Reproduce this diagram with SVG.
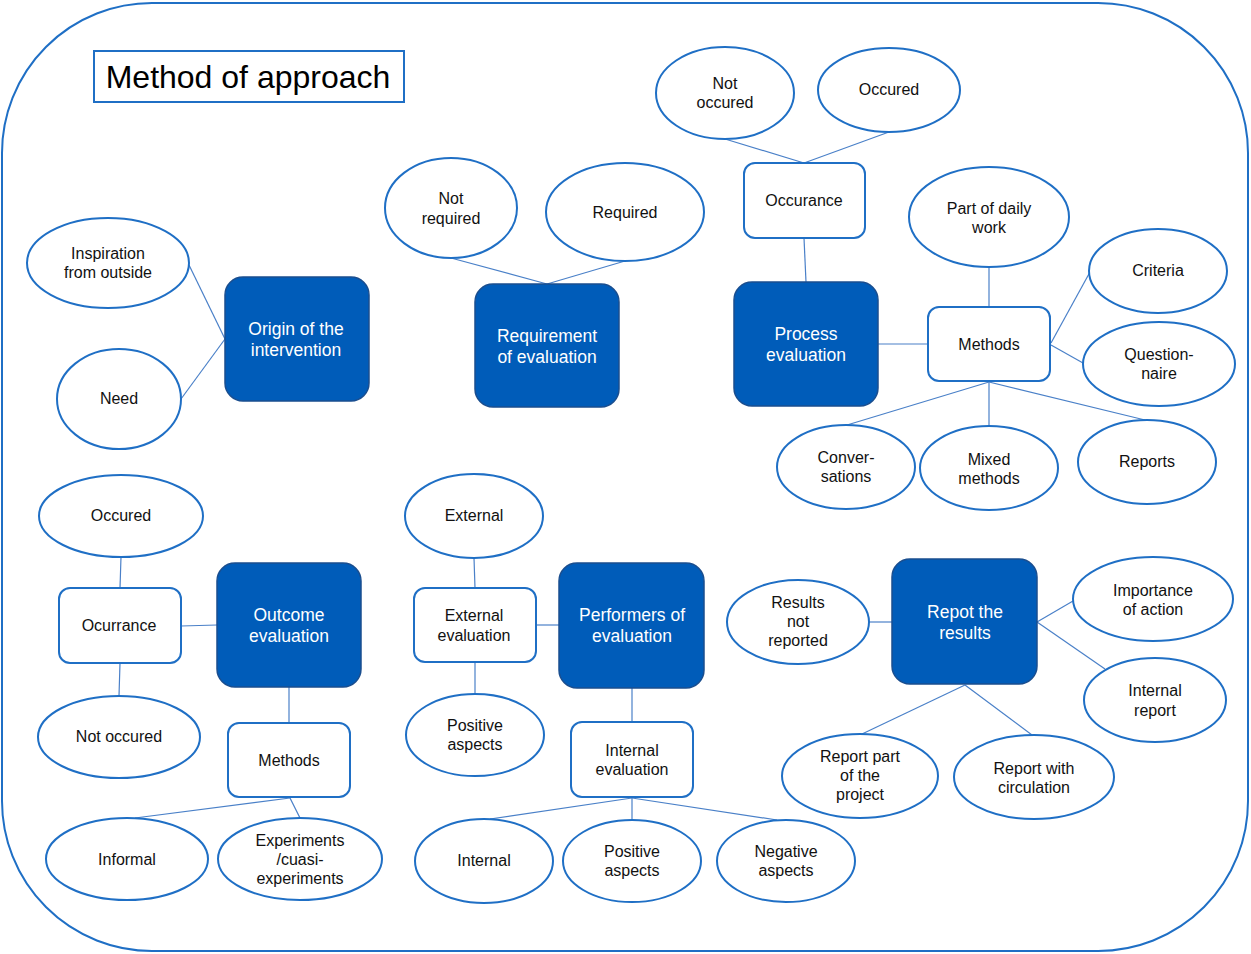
<svg xmlns="http://www.w3.org/2000/svg" width="1251" height="954" viewBox="0 0 1251 954">
  <style>
    .frame { fill: #ffffff; stroke: #1f6fc5; stroke-width: 2; }
    .title { fill: #ffffff; stroke: #1f6fc5; stroke-width: 2; }
    .main rect { fill: #005cb9; stroke: #1a4e8f; stroke-width: 1.5; }
    .main text { fill: #ffffff; font-family: "Liberation Sans", Arial, sans-serif; font-size: 17.5px; text-anchor: middle; }
    .sub rect { fill: #ffffff; stroke: #1f6fc5; stroke-width: 2; }
    .leaf ellipse { fill: #ffffff; stroke: #1f6fc5; stroke-width: 2; }
    .sub text, .leaf text { fill: #111111; font-family: "Liberation Sans", Arial, sans-serif; font-size: 16px; text-anchor: middle; }
    #connectors line { stroke: #4a80c8; stroke-width: 1.2; }
  </style>

  <!-- outer frame -->
  <rect class="frame" x="2" y="3" width="1246" height="948" rx="150" ry="150"/>

  <!-- title -->
  <g id="title">
    <rect class="title" x="94" y="51" width="310" height="51"/>
    <text x="248" y="88" font-family="Liberation Sans, Arial, sans-serif" font-size="32" text-anchor="middle" fill="#000">Method of approach</text>
  </g>

  <!-- connectors -->
  <g id="connectors">
    <line x1="189" y1="265" x2="225" y2="339"/>
    <line x1="181" y1="399" x2="225" y2="339"/>
    <line x1="451" y1="258" x2="547" y2="284"/>
    <line x1="625" y1="261" x2="547" y2="284"/>
    <line x1="725" y1="139" x2="804" y2="163"/>
    <line x1="889" y1="132" x2="804" y2="163"/>
    <line x1="804" y1="238" x2="806" y2="282"/>
    <line x1="878" y1="344" x2="928" y2="344"/>
    <line x1="989" y1="267" x2="989" y2="307"/>
    <line x1="1051" y1="343" x2="1090" y2="272"/>
    <line x1="1051" y1="345" x2="1083" y2="363"/>
    <line x1="989" y1="382" x2="847" y2="425"/>
    <line x1="989" y1="382" x2="989" y2="426"/>
    <line x1="989" y1="382" x2="1145" y2="420"/>
    <line x1="121" y1="557" x2="120" y2="588"/>
    <line x1="120" y1="663" x2="119" y2="696"/>
    <line x1="181" y1="626" x2="217" y2="625"/>
    <line x1="289" y1="687" x2="289" y2="723"/>
    <line x1="290" y1="798" x2="135" y2="818"/>
    <line x1="290" y1="798" x2="300" y2="818"/>
    <line x1="474" y1="558" x2="475" y2="588"/>
    <line x1="475" y1="662" x2="475" y2="694"/>
    <line x1="536" y1="625" x2="559" y2="625"/>
    <line x1="632" y1="688" x2="632" y2="722"/>
    <line x1="632" y1="798" x2="490" y2="819"/>
    <line x1="632" y1="798" x2="632" y2="820"/>
    <line x1="632" y1="798" x2="777" y2="820"/>
    <line x1="869" y1="622" x2="892" y2="622"/>
    <line x1="1037" y1="622" x2="1073" y2="601"/>
    <line x1="1037" y1="622" x2="1105" y2="669"/>
    <line x1="965" y1="685" x2="862" y2="734"/>
    <line x1="965" y1="685" x2="1032" y2="735"/>
  </g>

  <!-- main categories -->
  <g id="origin" class="main">
    <rect x="225" y="277" width="144" height="124" rx="18"/>
    <text x="296" y="335">Origin of the</text>
    <text x="296" y="356">intervention</text>
  </g>
  <g id="requirement" class="main">
    <rect x="475" y="284" width="144" height="123" rx="18"/>
    <text x="547" y="342">Requirement</text>
    <text x="547" y="363">of evaluation</text>
  </g>
  <g id="process" class="main">
    <rect x="734" y="282" width="144" height="124" rx="18"/>
    <text x="806" y="340">Process</text>
    <text x="806" y="361">evaluation</text>
  </g>
  <g id="outcome" class="main">
    <rect x="217" y="563" width="144" height="124" rx="18"/>
    <text x="289" y="621">Outcome</text>
    <text x="289" y="642">evaluation</text>
  </g>
  <g id="performers" class="main">
    <rect x="559" y="563" width="145" height="125" rx="18"/>
    <text x="632" y="621">Performers of</text>
    <text x="632" y="642">evaluation</text>
  </g>
  <g id="report" class="main">
    <rect x="892" y="559" width="145" height="125" rx="18"/>
    <text x="965" y="618">Repot the</text>
    <text x="965" y="639">results</text>
  </g>

  <!-- sub-categories -->
  <g id="occurance-top" class="sub">
    <rect x="744" y="163" width="121" height="75" rx="11"/>
    <text x="804" y="206">Occurance</text>
  </g>
  <g id="methods-process" class="sub">
    <rect x="928" y="307" width="122" height="74" rx="11"/>
    <text x="989" y="350">Methods</text>
  </g>
  <g id="ocurrance" class="sub">
    <rect x="59" y="588" width="122" height="75" rx="11"/>
    <text x="119" y="631">Ocurrance</text>
  </g>
  <g id="methods-outcome" class="sub">
    <rect x="228" y="723" width="122" height="74" rx="11"/>
    <text x="289" y="766">Methods</text>
  </g>
  <g id="external-evaluation" class="sub">
    <rect x="414" y="588" width="122" height="74" rx="11"/>
    <text x="474" y="621">External</text>
    <text x="474" y="641">evaluation</text>
  </g>
  <g id="internal-evaluation" class="sub">
    <rect x="571" y="722" width="122" height="75" rx="11"/>
    <text x="632" y="756">Internal</text>
    <text x="632" y="775">evaluation</text>
  </g>

  <!-- leaves -->
  <g id="inspiration" class="leaf">
    <ellipse cx="108" cy="263" rx="81" ry="45"/>
    <text x="108" y="259">Inspiration</text>
    <text x="108" y="278">from outside</text>
  </g>
  <g id="need" class="leaf">
    <ellipse cx="119" cy="399" rx="62" ry="50"/>
    <text x="119" y="404">Need</text>
  </g>
  <g id="not-required" class="leaf">
    <ellipse cx="451" cy="208" rx="66" ry="50"/>
    <text x="451" y="204">Not</text>
    <text x="451" y="224">required</text>
  </g>
  <g id="required" class="leaf">
    <ellipse cx="625" cy="212" rx="79" ry="49"/>
    <text x="625" y="218">Required</text>
  </g>
  <g id="not-occured-top" class="leaf">
    <ellipse cx="725" cy="93" rx="69" ry="46"/>
    <text x="725" y="89">Not</text>
    <text x="725" y="108">occured</text>
  </g>
  <g id="occured-top" class="leaf">
    <ellipse cx="889" cy="90" rx="71" ry="42"/>
    <text x="889" y="95">Occured</text>
  </g>
  <g id="daily-work" class="leaf">
    <ellipse cx="989" cy="217" rx="80" ry="50"/>
    <text x="989" y="214">Part of daily</text>
    <text x="989" y="233">work</text>
  </g>
  <g id="criteria" class="leaf">
    <ellipse cx="1158" cy="271" rx="69" ry="42"/>
    <text x="1158" y="276">Criteria</text>
  </g>
  <g id="questionnaire" class="leaf">
    <ellipse cx="1159" cy="364" rx="76" ry="42"/>
    <text x="1159" y="360">Question-</text>
    <text x="1159" y="379">naire</text>
  </g>
  <g id="conversations" class="leaf">
    <ellipse cx="846" cy="467" rx="69" ry="42"/>
    <text x="846" y="463">Conver-</text>
    <text x="846" y="482">sations</text>
  </g>
  <g id="mixed-methods" class="leaf">
    <ellipse cx="989" cy="468" rx="69" ry="42"/>
    <text x="989" y="465">Mixed</text>
    <text x="989" y="484">methods</text>
  </g>
  <g id="reports" class="leaf">
    <ellipse cx="1147" cy="462" rx="69" ry="42"/>
    <text x="1147" y="467">Reports</text>
  </g>
  <g id="occured-bottom" class="leaf">
    <ellipse cx="121" cy="516" rx="82" ry="41"/>
    <text x="121" y="521">Occured</text>
  </g>
  <g id="not-occured-bottom" class="leaf">
    <ellipse cx="119" cy="737" rx="81" ry="41"/>
    <text x="119" y="742">Not occured</text>
  </g>
  <g id="informal" class="leaf">
    <ellipse cx="127" cy="859" rx="81" ry="41"/>
    <text x="127" y="865">Informal</text>
  </g>
  <g id="experiments" class="leaf">
    <ellipse cx="300" cy="859" rx="82" ry="41"/>
    <text x="300" y="846">Experiments</text>
    <text x="300" y="865">/cuasi-</text>
    <text x="300" y="884">experiments</text>
  </g>
  <g id="external" class="leaf">
    <ellipse cx="474" cy="516" rx="69" ry="42"/>
    <text x="474" y="521">External</text>
  </g>
  <g id="positive-external" class="leaf">
    <ellipse cx="475" cy="735" rx="69" ry="41"/>
    <text x="475" y="731">Positive</text>
    <text x="475" y="750">aspects</text>
  </g>
  <g id="internal" class="leaf">
    <ellipse cx="484" cy="861" rx="69" ry="42"/>
    <text x="484" y="866">Internal</text>
  </g>
  <g id="positive-internal" class="leaf">
    <ellipse cx="632" cy="861" rx="69" ry="41"/>
    <text x="632" y="857">Positive</text>
    <text x="632" y="876">aspects</text>
  </g>
  <g id="negative-internal" class="leaf">
    <ellipse cx="786" cy="861" rx="69" ry="41"/>
    <text x="786" y="857">Negative</text>
    <text x="786" y="876">aspects</text>
  </g>
  <g id="not-reported" class="leaf">
    <ellipse cx="798" cy="622" rx="71" ry="42"/>
    <text x="798" y="608">Results</text>
    <text x="798" y="627">not</text>
    <text x="798" y="646">reported</text>
  </g>
  <g id="importance" class="leaf">
    <ellipse cx="1153" cy="599" rx="80" ry="42"/>
    <text x="1153" y="596">Importance</text>
    <text x="1153" y="615">of action</text>
  </g>
  <g id="internal-report" class="leaf">
    <ellipse cx="1155" cy="700" rx="71" ry="42"/>
    <text x="1155" y="696">Internal</text>
    <text x="1155" y="716">report</text>
  </g>
  <g id="report-part" class="leaf">
    <ellipse cx="860" cy="776" rx="78" ry="42"/>
    <text x="860" y="762">Report part</text>
    <text x="860" y="781">of the</text>
    <text x="860" y="800">project</text>
  </g>
  <g id="report-circulation" class="leaf">
    <ellipse cx="1034" cy="777" rx="80" ry="42"/>
    <text x="1034" y="774">Report with</text>
    <text x="1034" y="793">circulation</text>
  </g>
</svg>
